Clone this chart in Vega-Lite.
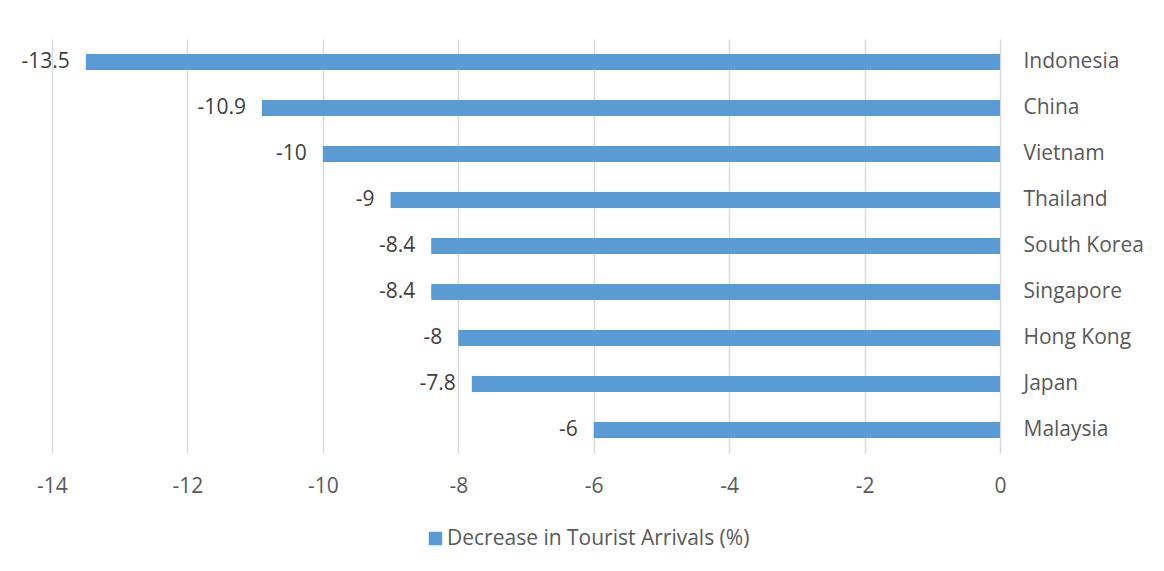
{
  "$schema": "https://vega.github.io/schema/vega-lite/v6.json",
  "autosize": {"type": "none"},
  "width": 948,
  "height": 414,
  "padding": {"left": 52, "top": 39, "right": 164, "bottom": 118},
  "background": "white",
  "config": {
    "view": {"stroke": null},
    "font": "Open Sans",
    "locale": {
      "number": {"decimal": ".", "thousands": ",", "grouping": [3], "currency": ["$", ""], "minus": "-"}
    }
  },
  "data": {
    "values": [
      {"country": "Indonesia", "value": -13.5, "series": "Decrease in Tourist Arrivals (%)"},
      {"country": "China", "value": -10.9, "series": "Decrease in Tourist Arrivals (%)"},
      {"country": "Vietnam", "value": -10, "series": "Decrease in Tourist Arrivals (%)"},
      {"country": "Thailand", "value": -9, "series": "Decrease in Tourist Arrivals (%)"},
      {"country": "South Korea", "value": -8.4, "series": "Decrease in Tourist Arrivals (%)"},
      {"country": "Singapore", "value": -8.4, "series": "Decrease in Tourist Arrivals (%)"},
      {"country": "Hong Kong", "value": -8, "series": "Decrease in Tourist Arrivals (%)"},
      {"country": "Japan", "value": -7.8, "series": "Decrease in Tourist Arrivals (%)"},
      {"country": "Malaysia", "value": -6, "series": "Decrease in Tourist Arrivals (%)"}
    ]
  },
  "encoding": {
    "y": {
      "field": "country",
      "type": "nominal",
      "sort": null,
      "scale": {"paddingInner": 0, "paddingOuter": 0},
      "axis": {
        "orient": "right",
        "title": null,
        "domain": false,
        "ticks": false,
        "grid": false,
        "labelPadding": 23,
        "labelFontSize": 21,
        "labelColor": "#595959",
        "labelFont": "Open Sans"
      }
    },
    "x": {
      "field": "value",
      "type": "quantitative",
      "scale": {"domain": [-14, 0], "nice": false, "zero": false},
      "axis": {
        "title": null,
        "values": [-14, -12, -10, -8, -6, -4, -2, 0],
        "format": "d",
        "domain": false,
        "ticks": false,
        "grid": true,
        "gridColor": "#D9D9D9",
        "gridWidth": 1.5,
        "labelPadding": 22,
        "labelFontSize": 21,
        "labelColor": "#595959",
        "labelFont": "Open Sans",
        "labelFlush": false
      }
    }
  },
  "layer": [
    {
      "mark": {"type": "bar", "size": 16},
      "encoding": {
        "color": {
          "field": "series",
          "type": "nominal",
          "scale": {"range": ["#5B9BD5"]},
          "legend": {
            "title": null,
            "orient": "none",
            "legendX": 373,
            "legendY": 489,
            "symbolType": "square",
            "symbolSize": 180,
            "symbolStrokeWidth": 0,
            "labelFontSize": 21,
            "labelColor": "#595959",
            "labelFont": "Open Sans",
            "labelOffset": 1,
            "labelLimit": 0
          }
        }
      }
    },
    {
      "mark": {"type": "text", "align": "right", "baseline": "middle", "dx": -16, "fontSize": 21, "color": "#404040", "font": "Open Sans"},
      "encoding": {
        "text": {"field": "value", "type": "quantitative"}
      }
    }
  ]
}
